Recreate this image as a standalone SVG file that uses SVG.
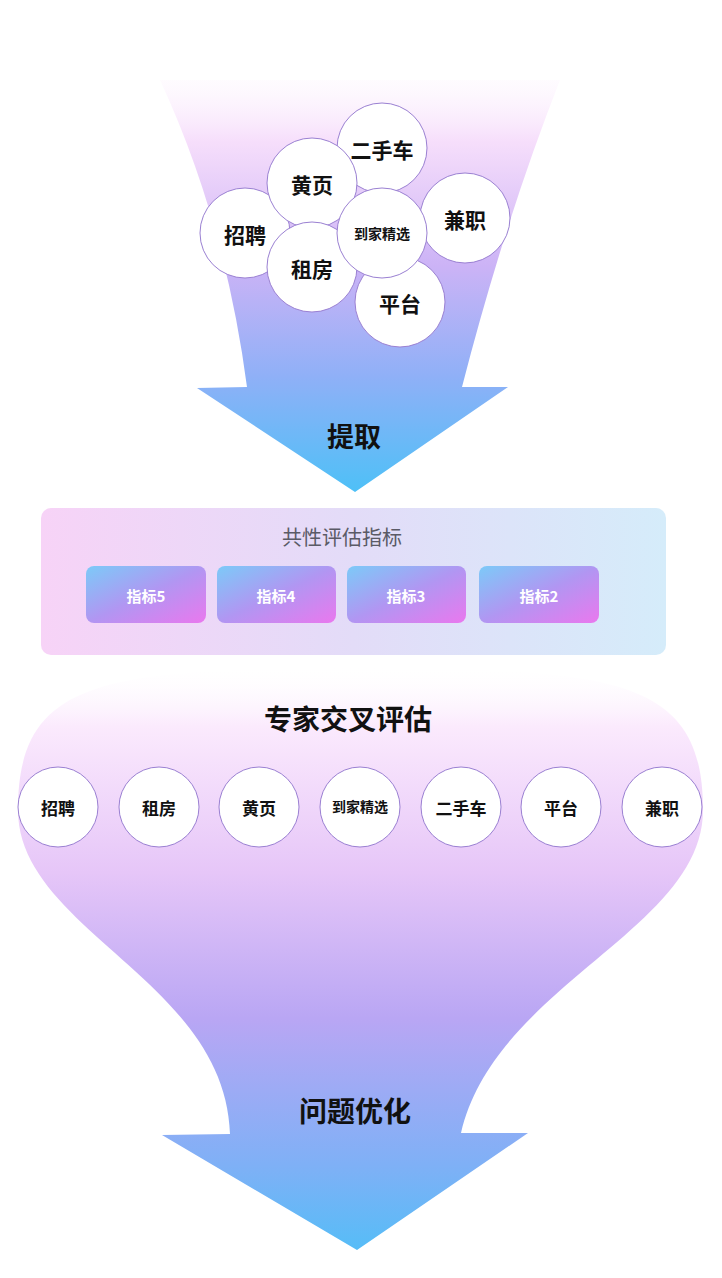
<svg xmlns="http://www.w3.org/2000/svg" width="722" height="1278" viewBox="0 0 722 1278">
<defs>
<linearGradient id="g1" x1="0" y1="80" x2="0" y2="492" gradientUnits="userSpaceOnUse">
<stop offset="0" stop-color="#fdf3fe" stop-opacity="0.3"/>
<stop offset="0.15" stop-color="#f6defb"/>
<stop offset="0.45" stop-color="#ccb3f6"/>
<stop offset="0.72" stop-color="#8fb0f7"/>
<stop offset="1" stop-color="#4ec0f7"/>
</linearGradient>
<linearGradient id="g2" x1="0" y1="668" x2="0" y2="1252" gradientUnits="userSpaceOnUse">
<stop offset="0" stop-color="#ffffff" stop-opacity="0.2"/>
<stop offset="0.1" stop-color="#fbeafd"/>
<stop offset="0.35" stop-color="#e6c6f8"/>
<stop offset="0.6" stop-color="#b9a6f4"/>
<stop offset="0.85" stop-color="#7fb0f6"/>
<stop offset="1" stop-color="#55bdf7"/>
</linearGradient>
<linearGradient id="gp" x1="0" y1="0" x2="1" y2="0">
<stop offset="0" stop-color="#f7d3f7"/>
<stop offset="0.5" stop-color="#e3dcf8"/>
<stop offset="1" stop-color="#d5ecfa"/>
</linearGradient>
<linearGradient id="gb" x1="0" y1="0" x2="1" y2="1">
<stop offset="0" stop-color="#7ccaf8"/>
<stop offset="0.5" stop-color="#b196f2"/>
<stop offset="1" stop-color="#ea78ee"/>
</linearGradient>
<style>
.c{fill:#fff;stroke:#9a80d2;stroke-width:1}
.t{font-family:"Noto Sans CJK SC","Noto Sans",sans-serif;fill:#111;text-anchor:middle;dominant-baseline:central}
.t1{font-size:21px;font-weight:700}
.t2{font-size:14px;font-weight:700}
.t3{font-size:17px;font-weight:700}
.t4{font-size:14px;font-weight:700}
.h{font-size:28px;font-weight:700}
.b{fill:url(#gb)}
.bt{font-family:"Noto Sans CJK SC","Noto Sans",sans-serif;fill:#fff;font-size:15px;font-weight:700;text-anchor:middle;dominant-baseline:central}
</style>
</defs>
<g id="funnel1">
<path d="M160,80 L560,80 Q505,220 462,387 L508,387 L355,492 L197,388 L247,387 Q225,220 160,80 Z" fill="url(#g1)"/>
<text class="t h" x="354" y="435" style="font-size:27px">提取</text>
</g>
<g id="cluster">
<g id="n-ershouche"><circle class="c" cx="382" cy="148" r="45"/><text class="t t1" x="382" y="149">二手车</text></g>
<g id="n-jianzhi"><circle class="c" cx="465" cy="218" r="45"/><text class="t t1" x="465" y="219">兼职</text></g>
<g id="n-zhaopin"><circle class="c" cx="245" cy="233" r="45"/><text class="t t1" x="245" y="234">招聘</text></g>
<g id="n-huangye"><circle class="c" cx="312" cy="183" r="45"/><text class="t t1" x="312" y="184">黄页</text></g>
<g id="n-zufang"><circle class="c" cx="312" cy="267" r="45"/><text class="t t1" x="312" y="268">租房</text></g>
<g id="n-pingtai"><circle class="c" cx="400" cy="302" r="45"/><text class="t t1" x="400" y="303">平台</text></g>
<g id="n-daojia"><circle class="c" cx="382" cy="233" r="45"/><text class="t t2" x="382" y="233">到家精选</text></g>
</g>
<g id="panel">
<rect x="41" y="508" width="625" height="147" rx="10" fill="url(#gp)"/>
<text class="t" x="342" y="536" style="font-size:20px;fill:#5a5a66;font-weight:400">共性评估指标</text>
<g id="m5"><rect class="b" x="86" y="566" width="120" height="57" rx="8"/><text class="bt" x="146" y="595">指标5</text></g>
<g id="m4"><rect class="b" x="217" y="566" width="119" height="57" rx="8"/><text class="bt" x="276" y="595">指标4</text></g>
<g id="m3"><rect class="b" x="347" y="566" width="119" height="57" rx="8"/><text class="bt" x="406" y="595">指标3</text></g>
<g id="m2"><rect class="b" x="479" y="566" width="120" height="57" rx="8"/><text class="bt" x="539" y="595">指标2</text></g>
</g>
<g id="funnel2">
<path d="M18,810 C18,680 100,668 360,668 C620,668 703,680 703,810 C703,930 495,985 461,1133 L528,1133 L357,1250 L162,1135 L230,1134 C225,980 18,930 18,810 Z" fill="url(#g2)"/>
<text class="t h" x="348" y="718">专家交叉评估</text>
<text class="t h" x="355" y="1110">问题优化</text>
</g>
<g id="row">
<g id="r-zhaopin"><circle class="c" cx="58" cy="807" r="40"/><text class="t t3" x="58" y="807">招聘</text></g>
<g id="r-zufang"><circle class="c" cx="159" cy="807" r="40"/><text class="t t3" x="159" y="807">租房</text></g>
<g id="r-huangye"><circle class="c" cx="259" cy="807" r="40"/><text class="t t3" x="259" y="807">黄页</text></g>
<g id="r-daojia"><circle class="c" cx="360" cy="807" r="40"/><text class="t t4" x="360" y="806">到家精选</text></g>
<g id="r-ershouche"><circle class="c" cx="461" cy="807" r="40"/><text class="t t3" x="461" y="807">二手车</text></g>
<g id="r-pingtai"><circle class="c" cx="561" cy="807" r="40"/><text class="t t3" x="561" y="807">平台</text></g>
<g id="r-jianzhi"><circle class="c" cx="662" cy="807" r="40"/><text class="t t3" x="662" y="807">兼职</text></g>
</g>
</svg>
